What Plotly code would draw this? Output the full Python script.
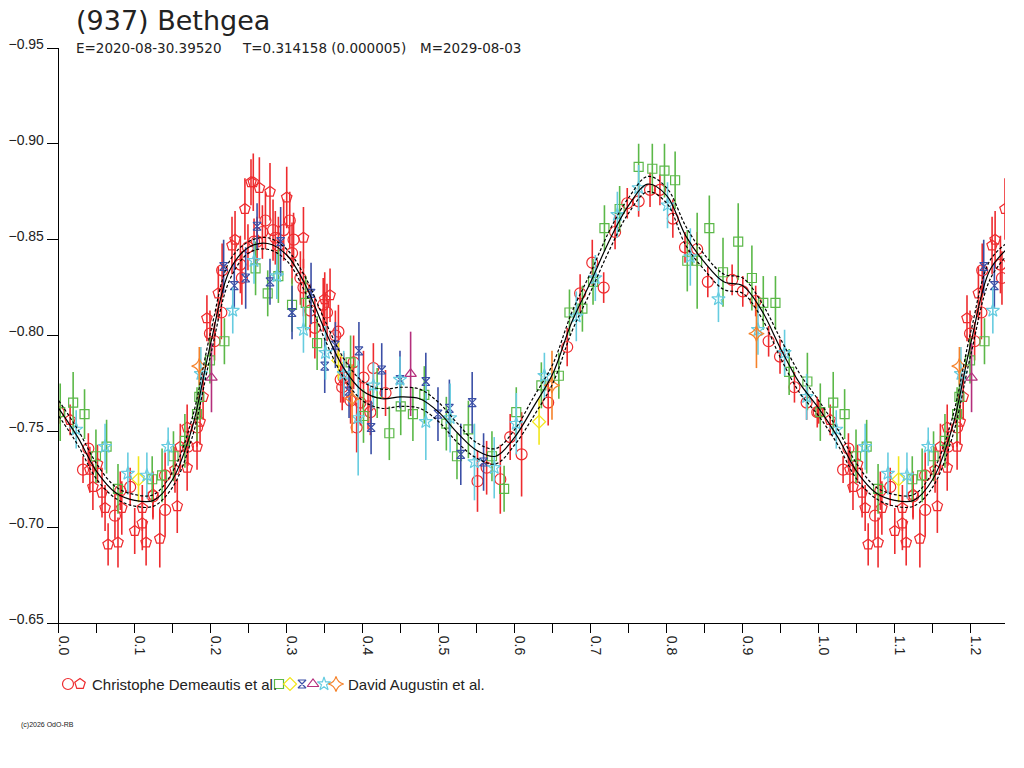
import plotly.graph_objs as go

# Lightcurve of (937) Bethgea, folded on the period (phase, reduced mag, error)

# Christophe Demeautis et al. - session 1 (circles)
cd1_phase = [0.000, 0.032, 0.039, 0.074, 0.081, 0.094, 0.124, 0.140, 0.140, 0.170, 0.182,
             0.199, 0.205, 0.214, 0.215, 0.239, 0.241, 0.249, 0.257, 0.261, 0.268, 0.272,
             0.282, 0.285, 0.289, 0.296, 0.304, 0.307, 0.309, 0.318, 0.322, 0.331, 0.337,
             0.348, 0.353, 0.364, 0.368, 0.371, 0.373, 0.375, 0.384, 0.388, 0.392, 0.397,
             0.401, 0.407, 0.410, 0.414, 0.430, 0.551, 0.563, 0.581, 0.594, 0.609, 0.644,
             0.669, 0.686, 0.702, 0.717, 0.732, 0.748, 0.763, 0.778, 0.791, 0.808, 0.824,
             0.840, 0.854, 0.886, 0.900, 0.917, 0.934, 0.949, 0.968, 0.984, 0.998]
cd1_mag = [-0.760, -0.730, -0.741, -0.706, -0.719, -0.721, -0.716, -0.709, -0.727, -0.742, -0.752,
           -0.801, -0.797, -0.812, -0.834, -0.837, -0.830, -0.846, -0.849, -0.849, -0.854, -0.860,
           -0.855, -0.851, -0.847, -0.855, -0.860, -0.843, -0.850, -0.830, -0.825, -0.813, -0.804,
           -0.816, -0.812, -0.800, -0.802, -0.777, -0.773, -0.778, -0.766, -0.786, -0.752, -0.765,
           -0.778, -0.763, -0.760, -0.783, -0.770, -0.724, -0.731, -0.725, -0.747, -0.738, -0.765,
           -0.794, -0.822, -0.838, -0.825, -0.854, -0.869, -0.870, -0.876, -0.876, -0.861, -0.846,
           -0.845, -0.828, -0.829, -0.823, -0.818, -0.797, -0.789, -0.773, -0.765, -0.760]
cd1_err = [0.006, 0.007, 0.008, 0.012, 0.010, 0.010, 0.012, 0.014, 0.012, 0.010, 0.010,
           0.012, 0.010, 0.014, 0.014, 0.015, 0.014, 0.012, 0.012, 0.013, 0.014, 0.015,
           0.016, 0.014, 0.015, 0.016, 0.015, 0.016, 0.014, 0.014, 0.015, 0.014, 0.016,
           0.014, 0.015, 0.013, 0.014, 0.012, 0.012, 0.013, 0.012, 0.014, 0.013, 0.012,
           0.014, 0.012, 0.012, 0.013, 0.012, 0.016, 0.014, 0.018, 0.012, 0.022, 0.012,
           0.010, 0.010, 0.012, 0.008, 0.009, 0.008, 0.008, 0.009, 0.008, 0.010, 0.008,
           0.009, 0.008, 0.008, 0.008, 0.008, 0.008, 0.009, 0.008, 0.009, 0.008]

# Christophe Demeautis et al. - session 2 (pentagons)
cd2_phase = [0.015, 0.041, 0.045, 0.051, 0.057, 0.061, 0.065, 0.078, 0.083, 0.100, 0.110,
             0.110, 0.115, 0.124, 0.133, 0.153, 0.156, 0.160, 0.169, 0.169, 0.182, 0.186,
             0.190, 0.195, 0.210, 0.228, 0.232, 0.245, 0.253, 0.256, 0.264, 0.278, 0.300,
             0.322, 0.350, 0.357]
cd2_mag = [-0.756, -0.730, -0.721, -0.733, -0.718, -0.710, -0.691, -0.692, -0.710, -0.698, -0.702,
           -0.710, -0.692, -0.717, -0.694, -0.730, -0.711, -0.742, -0.731, -0.752, -0.742, -0.755,
           -0.768, -0.809, -0.822, -0.847, -0.850, -0.866, -0.880, -0.880, -0.877, -0.875, -0.872,
           -0.851, -0.819, -0.821]
cd2_err = [0.008, 0.012, 0.012, 0.010, 0.013, 0.012, 0.011, 0.013, 0.014, 0.012, 0.014,
           0.012, 0.012, 0.012, 0.015, 0.012, 0.014, 0.012, 0.012, 0.012, 0.012, 0.012,
           0.012, 0.012, 0.014, 0.015, 0.015, 0.016, 0.012, 0.015, 0.016, 0.015, 0.016,
           0.016, 0.014, 0.014]

# David Augustin et al. - six sessions
da1_phase = [0.002, 0.019, 0.034, 0.049, 0.063, 0.078, 0.123, 0.136, 0.151, 0.166, 0.182,
             0.185, 0.199, 0.218, 0.259, 0.275, 0.289, 0.307, 0.325, 0.340, 0.384, 0.401,
             0.419, 0.435, 0.450, 0.466, 0.481, 0.510, 0.524, 0.539, 0.570, 0.586, 0.602,
             0.635, 0.658, 0.672, 0.689, 0.703, 0.718, 0.738, 0.763, 0.781, 0.797, 0.811,
             0.827, 0.840, 0.856, 0.874, 0.894, 0.912, 0.927, 0.943, 0.961, 0.985]
da1_mag = [-0.760, -0.765, -0.759, -0.737, -0.742, -0.720, -0.725, -0.727, -0.737, -0.745, -0.759,
           -0.768, -0.787, -0.797, -0.835, -0.822, -0.831, -0.816, -0.817, -0.796, -0.786, -0.758,
           -0.770, -0.749, -0.763, -0.759, -0.769, -0.754, -0.737, -0.751, -0.737, -0.720, -0.760,
           -0.774, -0.779, -0.812, -0.814, -0.828, -0.856, -0.866, -0.888, -0.887, -0.886, -0.881,
           -0.839, -0.839, -0.856, -0.833, -0.849, -0.830, -0.817, -0.817, -0.781, -0.776]
da1_err = [0.015, 0.016, 0.013, 0.014, 0.014, 0.013, 0.012, 0.014, 0.013, 0.014, 0.014,
           0.012, 0.012, 0.012, 0.014, 0.012, 0.014, 0.014, 0.014, 0.014, 0.014, 0.014,
           0.013, 0.014, 0.015, 0.014, 0.015, 0.014, 0.012, 0.015, 0.013, 0.012, 0.013,
           0.012, 0.012, 0.012, 0.012, 0.012, 0.012, 0.012, 0.012, 0.013, 0.014, 0.015,
           0.016, 0.025, 0.017, 0.018, 0.020, 0.017, 0.014, 0.014, 0.012, 0.015]

da2_phase = [0.105, 0.368, 0.632]
da2_mag = [-0.725, -0.787, -0.755]
da2_err = [0.012, 0.010, 0.012]

da3_phase = [0.217, 0.231, 0.246, 0.261, 0.278, 0.292, 0.307, 0.332, 0.350, 0.364, 0.382,
             0.395, 0.411, 0.425, 0.449, 0.483, 0.499, 0.514, 0.529, 0.544, 0.559]
da3_mag = [-0.836, -0.826, -0.830, -0.857, -0.828, -0.849, -0.812, -0.822, -0.784, -0.795, -0.771,
           -0.792, -0.752, -0.782, -0.777, -0.776, -0.759, -0.762, -0.738, -0.765, -0.734]
da3_err = [0.014, 0.012, 0.016, 0.012, 0.012, 0.018, 0.014, 0.016, 0.014, 0.012, 0.014,
           0.015, 0.014, 0.014, 0.015, 0.015, 0.014, 0.015, 0.016, 0.016, 0.015]

da4_phase = [0.201, 0.463]
da4_mag = [-0.778, -0.780]
da4_err = [0.018, 0.022]

da5_phase = [0.023, 0.061, 0.091, 0.116, 0.144, 0.187, 0.229, 0.257, 0.287, 0.322, 0.351,
             0.375, 0.394, 0.414, 0.449, 0.483, 0.515, 0.547, 0.573, 0.602, 0.639, 0.681,
             0.706, 0.735, 0.763, 0.801, 0.831, 0.868, 0.920, 0.955, 0.984]
da5_mag = [-0.751, -0.742, -0.728, -0.727, -0.742, -0.780, -0.813, -0.839, -0.831, -0.803, -0.791,
           -0.780, -0.757, -0.774, -0.777, -0.755, -0.757, -0.734, -0.731, -0.754, -0.779, -0.810,
           -0.830, -0.863, -0.877, -0.868, -0.841, -0.819, -0.803, -0.791, -0.768]
da5_err = [0.010, 0.012, 0.011, 0.012, 0.010, 0.014, 0.012, 0.012, 0.012, 0.012, 0.014,
           0.012, 0.030, 0.012, 0.012, 0.020, 0.018, 0.020, 0.016, 0.016, 0.012, 0.013,
           0.012, 0.012, 0.012, 0.012, 0.015, 0.012, 0.013, 0.012, 0.012]

da6_phase = [0.185, 0.386, 0.649, 0.918]
da6_mag = [-0.784, -0.767, -0.774, -0.801]
da6_err = [0.010, 0.018, 0.018, 0.018]

# Fourier fit, with its uncertainty envelope
fit_phase = [0.000, 0.025, 0.050, 0.075, 0.100, 0.125, 0.150, 0.175, 0.200, 0.225,
             0.250, 0.275, 0.300, 0.325, 0.350, 0.375, 0.400, 0.425, 0.450, 0.475,
             0.500, 0.525, 0.550, 0.575, 0.600, 0.625, 0.650, 0.675, 0.700, 0.725,
             0.750, 0.775, 0.800, 0.825, 0.850, 0.875, 0.900, 0.925, 0.950, 0.975,
             1.000, 1.025, 1.050, 1.075, 1.100, 1.125, 1.150, 1.175, 1.200, 1.225, 1.250]
fit_mag = [-0.762, -0.747, -0.729, -0.718, -0.714, -0.714, -0.725, -0.751, -0.796, -0.834,
           -0.846, -0.848, -0.842, -0.826, -0.803, -0.783, -0.771, -0.767, -0.768, -0.767,
           -0.760, -0.749, -0.740, -0.737, -0.747, -0.763, -0.780, -0.807, -0.828, -0.850,
           -0.868, -0.879, -0.873, -0.852, -0.838, -0.828, -0.826, -0.813, -0.793, -0.775,
           -0.762, -0.747, -0.729, -0.718, -0.714, -0.714, -0.725, -0.751, -0.796, -0.834, -0.846]
fit_upper = [-0.766, -0.751, -0.733, -0.721, -0.717, -0.717, -0.729, -0.756, -0.802, -0.839,
             -0.849, -0.851, -0.845, -0.830, -0.808, -0.788, -0.776, -0.772, -0.773, -0.772,
             -0.765, -0.754, -0.744, -0.741, -0.751, -0.768, -0.785, -0.812, -0.833, -0.855,
             -0.872, -0.883, -0.877, -0.857, -0.842, -0.832, -0.830, -0.817, -0.798, -0.780,
             -0.766, -0.751, -0.733, -0.721, -0.717, -0.717, -0.729, -0.756, -0.802, -0.839, -0.849]
fit_lower = [-0.758, -0.743, -0.725, -0.715, -0.711, -0.711, -0.721, -0.746, -0.790, -0.829,
             -0.843, -0.845, -0.839, -0.822, -0.798, -0.778, -0.766, -0.762, -0.763, -0.762,
             -0.755, -0.744, -0.736, -0.733, -0.743, -0.758, -0.775, -0.802, -0.823, -0.845,
             -0.864, -0.875, -0.869, -0.847, -0.834, -0.824, -0.822, -0.809, -0.788, -0.770,
             -0.758, -0.743, -0.725, -0.715, -0.711, -0.711, -0.721, -0.746, -0.790, -0.829, -0.843]

PHASE_MAX = 1.245


def wrap(ph, mg, er):
    # the plot repeats the start of the cycle after phase 1
    x = list(ph) + [p + 1 for p in ph if p + 1 <= PHASE_MAX]
    y = list(mg) + [m for p, m in zip(ph, mg) if p + 1 <= PHASE_MAX]
    e = list(er) + [v for p, v in zip(ph, er) if p + 1 <= PHASE_MAX]
    return x, y, e


series = [
    # (phase, mag, err, color, symbol, size)
    (cd1_phase, cd1_mag, cd1_err, '#ee2b2e', 'circle-open', 11),
    (cd2_phase, cd2_mag, cd2_err, '#ee2b2e', 'pentagon-open', 11),
    (da1_phase, da1_mag, da1_err, '#5bb848', 'square-open', 9),
    (da2_phase, da2_mag, da2_err, '#f2e61a', 'diamond-open', 10),
    (da3_phase, da3_mag, da3_err, '#3b4fa6', 'hourglass-open', 8),
    (da4_phase, da4_mag, da4_err, '#b42f7c', 'triangle-up-open', 10),
    (da5_phase, da5_mag, da5_err, '#66cce0', 'star-open', 10),
    (da6_phase, da6_mag, da6_err, '#f5822a', 'star-diamond-open', 11),
]

fig = go.Figure()

for ph, mg, er, col, sym, sz in series:
    x, y, e = wrap(ph, mg, er)
    fig.add_trace(go.Scatter(
        x=x, y=y, mode='markers',
        marker=dict(symbol=sym, size=sz, color=col, line=dict(width=1.2, color=col)),
        error_y=dict(type='data', array=e, visible=True, color=col, thickness=1.6, width=0),
        showlegend=False, hoverinfo='skip'))

# fit curves
fig.add_trace(go.Scatter(x=fit_phase, y=fit_upper, mode='lines', line=dict(color='black', width=1.2, dash='3px,2px', shape='spline'), showlegend=False))
fig.add_trace(go.Scatter(x=fit_phase, y=fit_lower, mode='lines', line=dict(color='black', width=1.2, dash='3px,2px', shape='spline'), showlegend=False))
fig.add_trace(go.Scatter(x=fit_phase, y=fit_mag, mode='lines', line=dict(color='black', width=1.2, shape='spline'), showlegend=False))

# legend swatches, drawn on a pixel-sized overlay axis
legend_x = [68, 80, 279, 290, 302, 313, 324, 336]
legend_y = 684
for (ph, mg, er, col, sym, sz), lx in zip(series, legend_x):
    fig.add_trace(go.Scatter(
        x=[lx], y=[legend_y], xaxis='x2', yaxis='y2', mode='markers',
        marker=dict(symbol=sym, size=sz, color=col, line=dict(width=1.2, color=col)),
        showlegend=False, hoverinfo='skip'))

font = "Liberation Sans, Arial, sans-serif"
wide = "DejaVu Sans, sans-serif"


def note(text, x, y, size, family=font, yanchor='middle'):
    return dict(text=text, x=x / 1024, y=1 - y / 768, xref='paper', yref='paper',
                xanchor='left', yanchor=yanchor, showarrow=False,
                font=dict(size=size, family=family, color='#222222'))


fig.update_layout(
    width=1024, height=768,
    margin=dict(l=0, r=0, t=0, b=0, autoexpand=False),
    paper_bgcolor='white', plot_bgcolor='rgba(0,0,0,0)',
    font=dict(family=font, color='#222222'),
    xaxis=dict(domain=[58.7 / 1024, 1005 / 1024], range=[0, PHASE_MAX], automargin=False,
               showgrid=False, zeroline=False, showline=True, linecolor='black', linewidth=1,
               ticks='outside', ticklen=9, tickcolor='black', dtick=0.1, tick0=0,
               tickformat='.1f', tickangle=90, tickfont=dict(size=14, color='#222222'),
               ticklabelshift=5,
               minor=dict(ticks='outside', ticklen=9, tickcolor='black', dtick=0.05, tick0=0, showgrid=False),
               anchor='y'),
    yaxis=dict(domain=[1 - 623 / 768, 1 - 48 / 768], range=[-0.65, -0.95], automargin=False,
               showgrid=False, zeroline=False, showline=True, linecolor='black', linewidth=1,
               ticks='outside', ticklen=11, tickcolor='black', dtick=0.05, tick0=-0.95,
               tickformat='.2f', tickfont=dict(size=14, color='#222222'), ticklabelshift=4,
               anchor='x'),
    xaxis2=dict(domain=[0, 1], range=[0, 1024], visible=False, anchor='y2', fixedrange=True, automargin=False),
    yaxis2=dict(domain=[0, 1], range=[768, 0], visible=False, anchor='x2', fixedrange=True, automargin=False),
    annotations=[
        note('(937) Bethgea', 74, 3, 27, wide, 'top'),
        note('E=2020-08-30.39520', 74, 48, 13.5, wide),
        note('T=0.314158 (0.000005)', 240, 48, 13.5, wide),
        note('M=2029-08-03', 418, 48, 13.5, wide),
        note('Christophe Demeautis et al.', 90, 684, 15),
        note('David Augustin et al.', 346, 684, 15),
        note('(c)2026 OdO-RB', 19, 725, 7),
    ],
)

# drop the default page margin so the 1024x768 figure sits at the window origin
fig.write_html("out.html", config={'displayModeBar': False},
               post_script="document.body.style.margin='0px';")
